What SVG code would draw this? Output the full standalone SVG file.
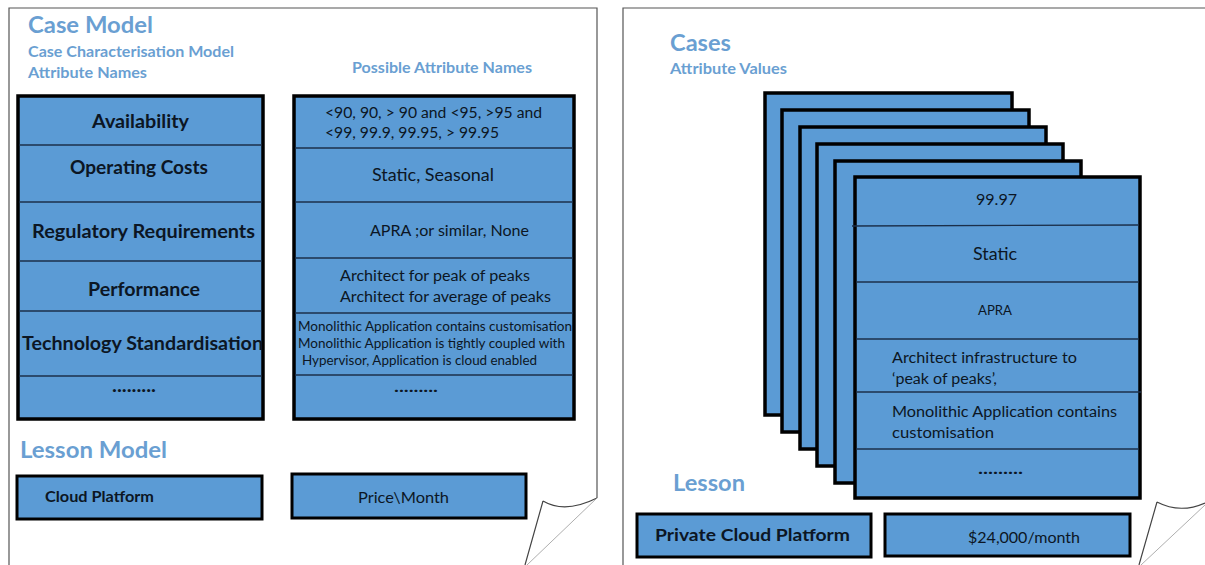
<svg xmlns="http://www.w3.org/2000/svg" width="1205" height="565" viewBox="0 0 1205 565">
<style>
.bg{fill:#ffffff}
.page{fill:none;stroke:#555;stroke-width:1.2}
.curl{fill:none;stroke:#444;stroke-width:1.2}
.fold{fill:none;stroke:#999;stroke-width:0.8}
.box{fill:#5b9bd5;stroke:#000;stroke-width:3.5}
.div{stroke:#1b2f4a;stroke-width:1.3}
text{font-family:Lato,"Open Sans",sans-serif}
.h1{font-weight:bold;font-size:23px;fill:#6a9fd2}
.h2{font-weight:bold;font-size:15.5px;fill:#6a9fd2}
.b{font-weight:bold;font-size:18px;fill:#0c1624}
.t{font-size:15.5px;fill:#0c1624}
.m{text-anchor:middle}
</style>
<rect class="bg" x="0" y="0" width="1205" height="565"/>
<g id="pages">
<path class="page" d="M9,565 L9,8 L597,8 L597,498"/>
<path class="curl" d="M543,501 Q565,514 597,498 M543,501 L525,565"/>
<path class="fold" d="M597,498 L527,565"/>
<path class="page" d="M623,565 L623,8 L1205,8"/>
<path class="curl" d="M1157,502 Q1180,514 1205,503 M1157,502 L1139,565"/>
<path class="fold" d="M1205,505 L1141,565"/>
</g>
<g id="titles">
<text class="h1" x="28" y="33" textLength="125" lengthAdjust="spacingAndGlyphs">Case Model</text>
<text class="h2" x="28" y="57" textLength="206" lengthAdjust="spacingAndGlyphs">Case Characterisation Model</text>
<text class="h2" x="28" y="78" textLength="119" lengthAdjust="spacingAndGlyphs">Attribute Names</text>
<text class="h2" x="352" y="73" textLength="180" lengthAdjust="spacingAndGlyphs" style="font-size:15px">Possible Attribute Names</text>
<text class="h1" x="20" y="458" textLength="147" lengthAdjust="spacingAndGlyphs">Lesson Model</text>
<text class="h1" x="670" y="51" textLength="61" lengthAdjust="spacingAndGlyphs" style="font-size:22px">Cases</text>
<text class="h2" x="670" y="74" textLength="117" lengthAdjust="spacingAndGlyphs" style="font-size:15px">Attribute Values</text>
<text class="h1" x="673" y="491" textLength="72" lengthAdjust="spacingAndGlyphs" style="font-size:22px">Lesson</text>
</g>
<g id="attribute-names">
<rect class="box" x="18" y="96" width="245" height="323"/>
<line class="div" x1="19" y1="145" x2="262" y2="145"/>
<line class="div" x1="19" y1="202" x2="262" y2="202"/>
<line class="div" x1="19" y1="261" x2="262" y2="261"/>
<line class="div" x1="19" y1="311" x2="262" y2="311"/>
<line class="div" x1="19" y1="376" x2="262" y2="376"/>
<text class="b" x="92" y="128" textLength="97" lengthAdjust="spacingAndGlyphs">Availability</text>
<text class="b" x="70" y="174" textLength="138" lengthAdjust="spacingAndGlyphs">Operating Costs</text>
<text class="b" x="32" y="238" textLength="223" lengthAdjust="spacingAndGlyphs">Regulatory Requirements</text>
<text class="b" x="88" y="296" textLength="112" lengthAdjust="spacingAndGlyphs">Performance</text>
<text class="b" x="22" y="350" textLength="241" lengthAdjust="spacingAndGlyphs">Technology Standardisation</text>
<text class="b" x="112" y="392" textLength="44" lengthAdjust="spacingAndGlyphs">.........</text>
</g>
<g id="possible-values">
<rect class="box" x="294" y="96" width="280" height="323"/>
<line class="div" x1="295" y1="148" x2="573" y2="148"/>
<line class="div" x1="295" y1="202" x2="573" y2="202"/>
<line class="div" x1="295" y1="258" x2="573" y2="258"/>
<line class="div" x1="295" y1="313" x2="573" y2="313"/>
<line class="div" x1="295" y1="375" x2="573" y2="375"/>
<text class="t" x="325" y="118" textLength="217" lengthAdjust="spacingAndGlyphs">&lt;90, 90, &gt; 90 and &lt;95, &gt;95 and</text>
<text class="t" x="325" y="138" textLength="174" lengthAdjust="spacingAndGlyphs">&lt;99, 99.9, 99.95, &gt; 99.95</text>
<text class="t" x="372" y="181" textLength="122" lengthAdjust="spacingAndGlyphs" style="font-size:17.5px">Static, Seasonal</text>
<text class="t" x="370" y="236" textLength="159" lengthAdjust="spacingAndGlyphs" style="font-size:15px">APRA ;or similar, None</text>
<text class="t" x="340" y="281" textLength="190" lengthAdjust="spacingAndGlyphs">Architect for peak of peaks</text>
<text class="t" x="340" y="302" textLength="211" lengthAdjust="spacingAndGlyphs">Architect for average of peaks</text>
<text class="t" x="298" y="331" textLength="274" lengthAdjust="spacingAndGlyphs" style="font-size:13.5px">Monolithic Application contains customisation</text>
<text class="t" x="298" y="348" textLength="267" lengthAdjust="spacingAndGlyphs" style="font-size:13.5px">Monolithic Application is tightly coupled with</text>
<text class="t" x="302" y="365" textLength="235" lengthAdjust="spacingAndGlyphs" style="font-size:13.5px">Hypervisor, Application is cloud enabled</text>
<text class="b" x="394" y="392" textLength="44" lengthAdjust="spacingAndGlyphs" style="font-size:16px">.........</text>
</g>
<g id="lesson-model">
<rect class="box" x="17" y="476" width="245" height="43" style="stroke-width:3"/>
<text class="b" x="45" y="502" textLength="109" lengthAdjust="spacingAndGlyphs" style="font-size:14.5px">Cloud Platform</text>
<rect class="box" x="292" y="474" width="234" height="44" style="stroke-width:3"/>
<text class="t" x="358" y="503" textLength="91" lengthAdjust="spacingAndGlyphs">Price\Month</text>
</g>
<g id="cases">
<rect class="box" x="765" y="93" width="247" height="322"/>
<rect class="box" x="782" y="110" width="247" height="322"/>
<rect class="box" x="800" y="127" width="246" height="322"/>
<rect class="box" x="817" y="144" width="246" height="322"/>
<rect class="box" x="835" y="161" width="246" height="322"/>
<rect class="box" x="855" y="177" width="285" height="321"/>
<line class="div" x1="852" y1="226" x2="1139" y2="225"/>
<line class="div" x1="856" y1="282" x2="1139" y2="282"/>
<line class="div" x1="856" y1="339" x2="1139" y2="339"/>
<line class="div" x1="856" y1="392" x2="1141" y2="392"/>
<line class="div" x1="856" y1="449" x2="1139" y2="449"/>
<text class="t" x="976" y="205" textLength="41" lengthAdjust="spacingAndGlyphs" style="font-size:14.5px">99.97</text>
<text class="t" x="973" y="260" textLength="44" lengthAdjust="spacingAndGlyphs" style="font-size:17.5px">Static</text>
<text class="t" x="978" y="315" textLength="34" lengthAdjust="spacingAndGlyphs" style="font-size:13px">APRA</text>
<text class="t" x="892" y="363" textLength="185" lengthAdjust="spacingAndGlyphs">Architect infrastructure to</text>
<text class="t" x="892" y="384" textLength="105" lengthAdjust="spacingAndGlyphs">‘peak of peaks’,</text>
<text class="t" x="892" y="417" textLength="225" lengthAdjust="spacingAndGlyphs">Monolithic Application contains</text>
<text class="t" x="892" y="438" textLength="102" lengthAdjust="spacingAndGlyphs">customisation</text>
<text class="b" x="978" y="474" textLength="45" lengthAdjust="spacingAndGlyphs" style="font-size:16px">.........</text>
</g>
<g id="lesson">
<rect class="box" x="637" y="514" width="234" height="43" style="stroke-width:3"/>
<text class="b" x="655" y="541" textLength="195" lengthAdjust="spacingAndGlyphs" style="font-size:17px">Private Cloud Platform</text>
<rect class="box" x="885" y="514" width="245" height="42" style="stroke-width:3"/>
<text class="t" x="968" y="543" textLength="112" lengthAdjust="spacingAndGlyphs">$24,000/month</text>
</g>
<g id="connectors"/>
</svg>
